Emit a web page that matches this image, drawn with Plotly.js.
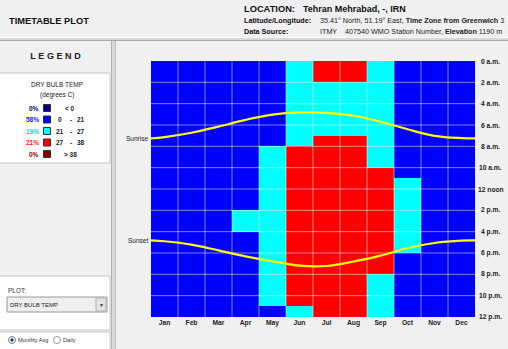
<!DOCTYPE html>
<html><head><meta charset="utf-8">
<script src="https://cdn.plot.ly/plotly-3.0.1.min.js"></script>
<style>html,body{margin:0;padding:0;background:#f0f0f0;overflow:hidden}#chart{width:508px;height:349px}</style>
</head><body><div id="chart"></div>
<script>
// ---------- data ----------
const months = ['Jan','Feb','Mar','Apr','May','Jun','Jul','Aug','Sep','Oct','Nov','Dec'];
const hourTicks = [0,2,4,6,8,10,12,14,16,18,20,22,24];
const hourLabels = ['0 a.m.','2 a.m.','4 a.m.','6 a.m.','8 a.m.','10 a.m.','12 noon','2 p.m.','4 p.m.','6 p.m.','8 p.m.','10 p.m.','12 p.m.'];
// temperature band per hour (0:<0, 1:0-21, 2:21-27, 3:27-38, 4:>38), hours 0..23
const janBand = [1,1,1,1,1,1,1,1,1,1,1,1,1,1,1,1,1,1,1,1,1,1,1,1];
const febBand = [1,1,1,1,1,1,1,1,1,1,1,1,1,1,1,1,1,1,1,1,1,1,1,1];
const marBand = [1,1,1,1,1,1,1,1,1,1,1,1,1,1,1,1,1,1,1,1,1,1,1,1];
const aprBand = [1,1,1,1,1,1,1,1,1,1,1,1,1,1,2,2,1,1,1,1,1,1,1,1];
const mayBand = [1,1,1,1,1,1,1,1,2,2,2,2,2,2,2,2,2,2,2,2,2,2,2,1];
const junBand = [2,2,2,2,2,2,2,2,3,3,3,3,3,3,3,3,3,3,3,3,3,3,3,2];
const julBand = [3,3,2,2,2,2,2,3,3,3,3,3,3,3,3,3,3,3,3,3,3,3,3,3];
const augBand = [3,3,2,2,2,2,2,3,3,3,3,3,3,3,3,3,3,3,3,3,3,3,3,3];
const sepBand = [2,2,2,2,2,2,2,2,2,2,3,3,3,3,3,3,3,3,3,3,2,2,2,2];
const octBand = [1,1,1,1,1,1,1,1,1,1,1,2,2,2,2,2,2,2,1,1,1,1,1,1];
const novBand = [1,1,1,1,1,1,1,1,1,1,1,1,1,1,1,1,1,1,1,1,1,1,1,1];
const decBand = [1,1,1,1,1,1,1,1,1,1,1,1,1,1,1,1,1,1,1,1,1,1,1,1];
const bandLow  = ['', '0', '21', '27', ''];
const bandHigh = ['', '21', '27', '38', ''];
const bandSingle = ['< 0', '', '', '', '> 38'];
// sunrise / sunset (hour of day) at mid-month, plus value at year start/end
const sunrise = [7.14, 6.73, 6.15, 5.52, 5.03, 4.82, 4.86, 5.13, 5.70, 6.40, 7.02, 7.23];
const sunset  = [16.90, 17.22, 17.76, 18.31, 18.78, 19.19, 19.22, 18.80, 18.25, 17.53, 17.06, 16.84];
const sunriseYearEdge = 7.26;
const sunsetYearEdge = 16.82;

// ---------- styles ----------
const bandColors = ['#000080','#0000ff','#00ffff','#ff0000','#800000'];
const pctColors  = ['#000080','#2020ff','#00dede','#ff2020','#900000'];
const FONT = 'Liberation Sans, Arial, sans-serif';
const W=508,H=349,ML=151,MR=33,MT=61,MB=32;
const PW=W-ML-MR, PH=H-MT-MB;
const fx=p=>(p-ML)/PW, fy=p=>1-(p-MT)/PH;

function txt(text,x,y,o={}) {
  return {text, xref:'paper', yref:'paper', x:fx(x), y:fy(y), showarrow:false,
    xanchor:o.anchor||'left', yanchor:'middle', borderpad:0,
    font:{family:FONT, size:o.size||8, color:o.color||'#222', weight:o.bold?'bold':'normal'}};
}
function rect(x0,y0,x1,y1,fill,line,lw) {
  return {type:'rect',xref:'paper',yref:'paper',x0:fx(x0),x1:fx(x1),y0:fy(y0),y1:fy(y1),
    fillcolor:fill,line:{color:line||'rgba(0,0,0,0)',width:lw===undefined?1:lw},layer:'below'};
}
function hline(x0,x1,y,color) {return {type:'line',xref:'paper',yref:'paper',x0:fx(x0),x1:fx(x1),y0:fy(y),y1:fy(y),line:{color,width:1},layer:'below'};}
function vline(x,y0,y1,color) {return {type:'line',xref:'paper',yref:'paper',x0:fx(x),x1:fx(x),y0:fy(y0),y1:fy(y1),line:{color,width:1},layer:'below'};}

// ---------- build ----------
const monthBands = [janBand,febBand,marBand,aprBand,mayBand,junBand,julBand,augBand,sepBand,octBand,novBand,decBand];
const monthIdx = months.map((_,i)=>i);
const hourIdx = janBand.map((_,h)=>h+0.5);
const z = janBand.map((_,h)=>monthBands.map(b=>b[h]));

const cs = [];
bandColors.forEach((c,i)=>{cs.push([i/bandColors.length,c]);cs.push([(i+1)/bandColors.length,c]);});

const heat = {type:'heatmap', x:monthIdx, y:hourIdx, z, zmin:-0.5, zmax:bandColors.length-0.5,
  colorscale:cs, showscale:false, hoverinfo:'skip'};

// grid lines drawn between heatmap and sun curves
const gx=[], gy=[];
for (let m=1;m<months.length;m++){gx.push(m-0.5,m-0.5,null);gy.push(0,24,null);}
for (let k=1;k<hourTicks.length-1;k++){gx.push(-0.5,months.length-0.5,null);gy.push(hourTicks[k],hourTicks[k],null);}
const grid = {type:'scatter',mode:'lines',x:gx,y:gy,line:{color:'rgba(255,255,255,0.5)',width:1},hoverinfo:'skip',showlegend:false};

const lx = [-0.5, ...monthIdx, months.length-0.5];
const rise = {type:'scatter',mode:'lines',x:lx,y:[sunriseYearEdge,...sunrise,sunriseYearEdge],
  line:{color:'#ffff00',width:2.2,shape:'spline',smoothing:1},hoverinfo:'skip',showlegend:false};
const set = {type:'scatter',mode:'lines',x:lx,y:[sunsetYearEdge,...sunset,sunsetYearEdge],
  line:{color:'#ffff00',width:2.2,shape:'spline',smoothing:1},hoverinfo:'skip',showlegend:false};

// legend percentages from the data
const counts = bandColors.map(()=>0);
monthBands.forEach(b=>b.forEach(v=>counts[v]++));
const total = monthBands.length*janBand.length;
const pcts = counts.map(c=>Math.floor(100*c/total)+'%');

const shapes = [
  // header separator
  rect(0,37,W,41,'#d8d8d8','rgba(0,0,0,0)',0),
  hline(0,W,37.5,'#ffffff'),
  hline(0,W,40.5,'#a8a8a8'),
  // vertical panel separator
  rect(111,41,116,H,'#dadada','rgba(0,0,0,0)',0),
  vline(111.5,41,H,'#b4b4b4'),
  vline(115.5,41,H,'#c0c0c0'),
  // legend box
  rect(-1,73,110,163,'#ffffff','#c4c4c4',1),
  // plot box
  rect(-1,276,110,330,'#ffffff','#c4c4c4',1),
  rect(-1,332,110,H+2,'#ffffff','#c4c4c4',1),
  // dropdown
  rect(7,297,107,312,'#eeeeee','#9a9a9a',1),
  rect(96,298,106,311,'#e4e4e4','#b0b0b0',1),
];
// legend swatches
const rowY = [108,119.5,131,142.5,154];
bandColors.forEach((c,i)=>{
  const s = rect(43.5,rowY[i]-3.5,50.5,rowY[i]+3.5,c,'#303030',1); s.layer='above'; shapes.push(s);
});
// radio buttons
shapes.push({type:'circle',xref:'paper',yref:'paper',x0:fx(8.5),x1:fx(15.5),y0:fy(336.5),y1:fy(343.5),fillcolor:'#ffffff',line:{color:'#7a7a7a',width:1},layer:'above'});
shapes.push({type:'circle',xref:'paper',yref:'paper',x0:fx(10.3),x1:fx(13.7),y0:fy(338.3),y1:fy(341.7),fillcolor:'#1a3a9a',line:{width:0},layer:'above'});
shapes.push({type:'circle',xref:'paper',yref:'paper',x0:fx(53.5),x1:fx(60.5),y0:fy(336.5),y1:fy(343.5),fillcolor:'#ffffff',line:{color:'#9a9a9a',width:1},layer:'above'});

const ann = [
  txt('TIMETABLE PLOT',8,21,{bold:true,size:9.3,color:'#111'}),
  txt('LOCATION:',243,8.5,{bold:true,size:9.3,color:'#111'}),
  txt('Tehran Mehrabad, -, IRN',302,8.5,{bold:true,size:9,color:'#111'}),
  txt('Latitude/Longitude:',243,20,{bold:true,size:7.2,color:'#111'}),
  txt('35.41° North, 51.19° East, <b>Time Zone from Greenwich</b> 3',319,20,{size:7.2,color:'#222'}),
  txt('Data Source:',243,31,{bold:true,size:7.2,color:'#111'}),
  txt('ITMY    407540 WMO Station Number, <b>Elevation</b> 1190 m',319,31,{size:7.2,color:'#222'}),
  txt('LEGEND',57,55.5,{bold:true,size:9,color:'#222',anchor:'center'}),
  txt('DRY BULB TEMP',57,84,{size:6.5,color:'#222',anchor:'center'}),
  txt('(degrees C)',57,94.5,{size:6.5,color:'#222',anchor:'center'}),
  txt('PLOT:',7,290,{size:6.5,color:'#333'}),
  txt('DRY BULB TEMP',9,304.5,{size:6,color:'#222'}),
  txt('▼',101,304.5,{size:5,color:'#333',anchor:'center'}),
  txt('Monthly Avg',17,340,{size:5.6,color:'#333'}),
  txt('Daily',62,340,{size:5.6,color:'#333'}),
];
bandColors.forEach((c,i)=>{
  ann.push(txt(pcts[i],39.5,rowY[i],{bold:true,size:6.5,color:pctColors[i],anchor:'right'}));
  if (bandSingle[i]) ann.push(txt(bandSingle[i],70,rowY[i],{bold:true,size:6.5,color:'#222',anchor:'center'}));
  else {
    ann.push(txt(bandLow[i],60,rowY[i],{bold:true,size:6.5,color:'#222',anchor:'center'}));
    ann.push(txt('-',70.5,rowY[i],{bold:true,size:6.5,color:'#222',anchor:'center'}));
    ann.push(txt(bandHigh[i],81,rowY[i],{bold:true,size:6.5,color:'#222',anchor:'center'}));
  }
});
// hour labels on the right, centred like the original
hourTicks.forEach((h,i)=>{
  ann.push({text:hourLabels[i],xref:'paper',yref:'y',x:fx(490.5),y:h,xanchor:'center',yanchor:'middle',
    showarrow:false,borderpad:0,font:{family:FONT,size:6.7,color:'#222',weight:'bold'}});
});
// sunrise / sunset labels tied to curve start
ann.push({text:'Sunrise',xref:'paper',yref:'y',x:fx(149),y:sunriseYearEdge,xanchor:'right',yanchor:'middle',showarrow:false,borderpad:0,font:{family:FONT,size:6.5,color:'#222'}});
ann.push({text:'Sunset',xref:'paper',yref:'y',x:fx(149),y:sunsetYearEdge,xanchor:'right',yanchor:'middle',showarrow:false,borderpad:0,font:{family:FONT,size:6.5,color:'#222'}});

const layout = {
  width:W,height:H,margin:{l:ML,r:MR,t:MT,b:MB,pad:0},
  paper_bgcolor:'#f0f0f0',plot_bgcolor:'#f0f0f0',showlegend:false,
  xaxis:{range:[-0.5,months.length-0.5],tickvals:monthIdx,ticktext:months,showgrid:false,zeroline:false,
    showline:false,ticks:'',ticklen:0,
    tickfont:{family:FONT,size:6.7,color:'#222',weight:'bold'},fixedrange:true},
  yaxis:{range:[24,0],showticklabels:false,showgrid:false,zeroline:false,
    showline:false,ticks:'',fixedrange:true},
  shapes, annotations:ann
};
Plotly.newPlot('chart',[heat,grid,rise,set],layout,{displayModeBar:false,staticPlot:true}).then(()=>{
  document.querySelectorAll('.annotation-text').forEach(t=>{
    if (t.textContent==='LEGEND') t.setAttribute('letter-spacing','2.6px');
  });
});
</script></body></html>
